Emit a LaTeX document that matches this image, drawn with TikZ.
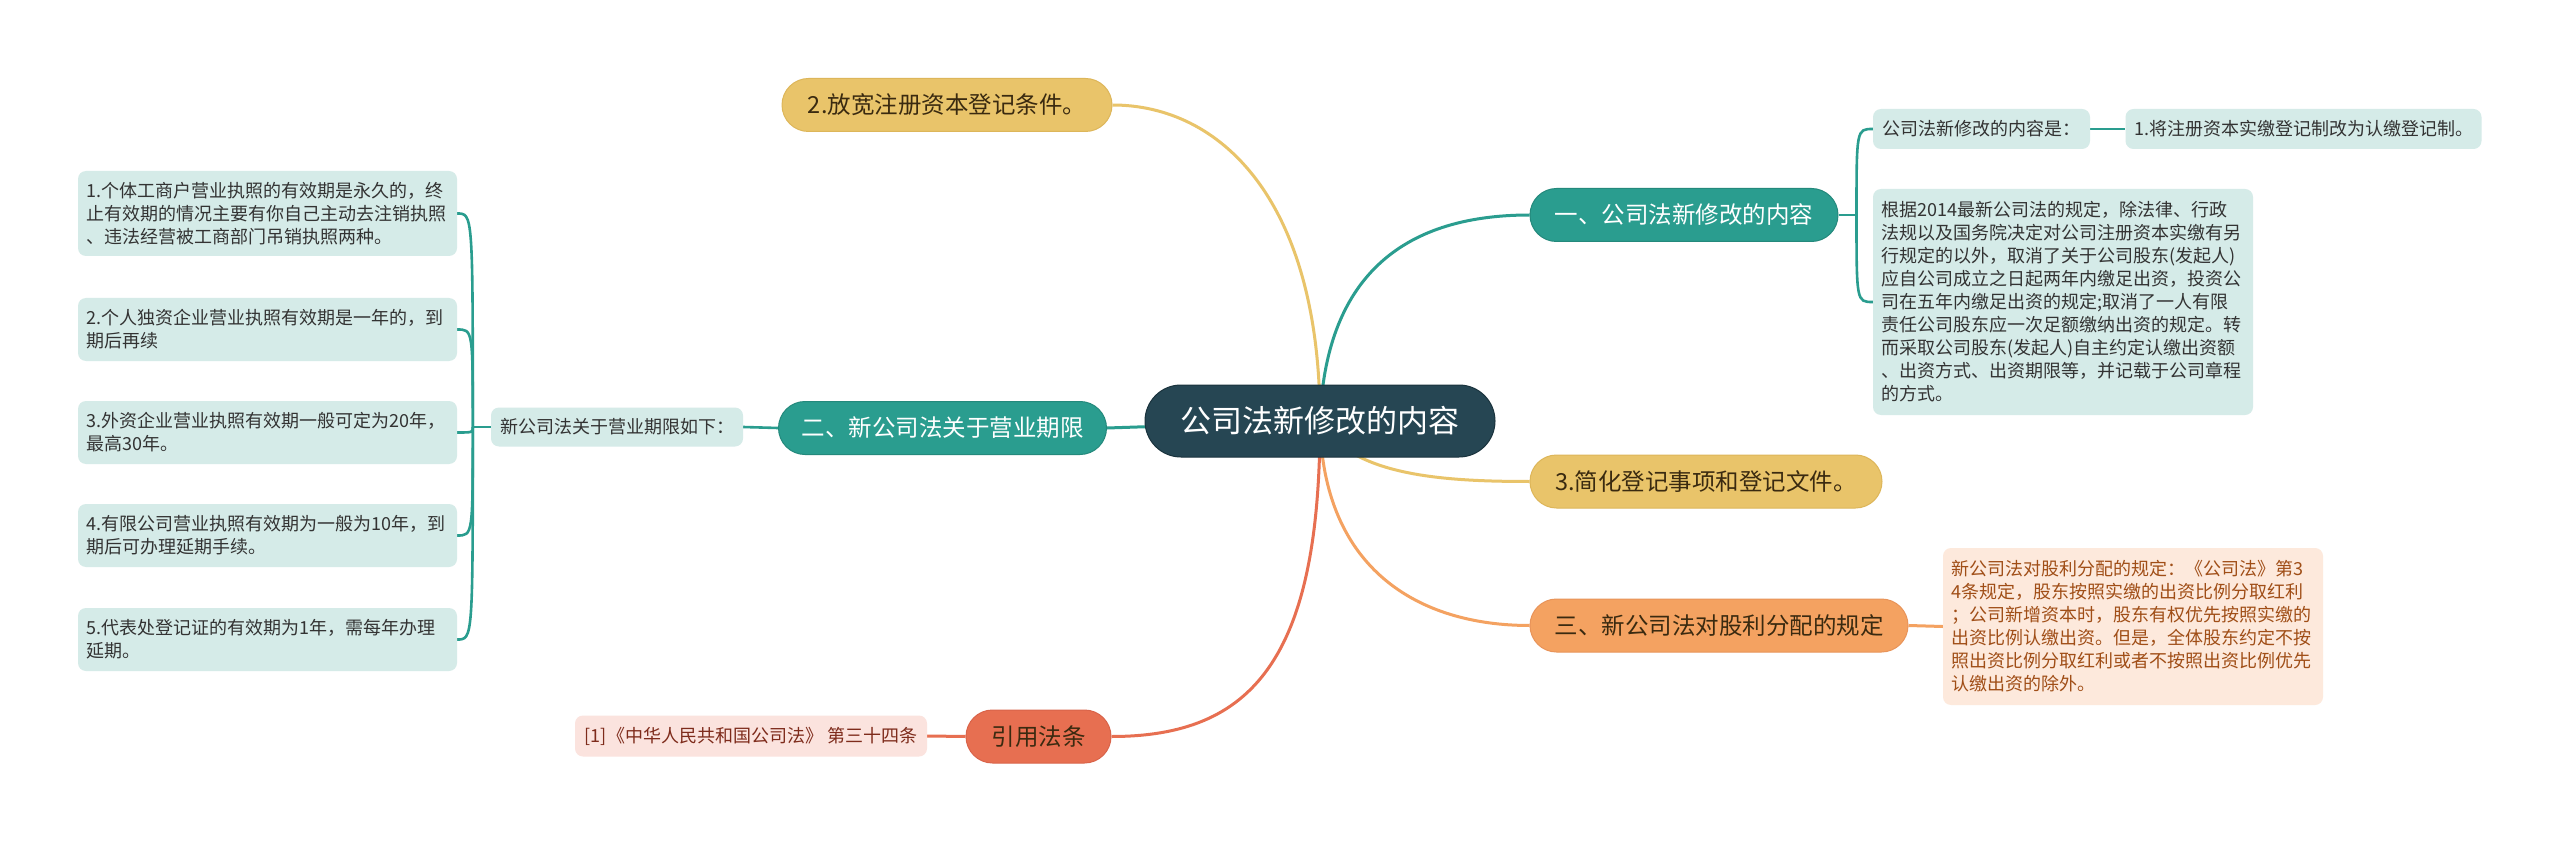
\documentclass[tikz,border=0pt]{standalone}
\usepackage{fontspec}
\setmainfont{Noto Sans CJK SC}
\usetikzlibrary{calc}
\definecolor{cnavy}{HTML}{264653}
\definecolor{cnavyd}{HTML}{1A333D}
\definecolor{cteal}{HTML}{2A9D8F}
\definecolor{ctealt}{HTML}{24897C}
\definecolor{cyel}{HTML}{E9C46A}
\definecolor{cyeld}{HTML}{DDB65A}
\definecolor{corg}{HTML}{F4A261}
\definecolor{corgd}{HTML}{E8945A}
\definecolor{cred}{HTML}{E76F51}
\definecolor{credd}{HTML}{D9644A}
\definecolor{lteal}{HTML}{D5EBE8}
\definecolor{lorg}{HTML}{FDE9DC}
\definecolor{lred}{HTML}{FBE3DE}
\definecolor{txtd}{HTML}{333333}
\definecolor{txto}{HTML}{A04E17}
\definecolor{txtr}{HTML}{7E2B1B}
\definecolor{txtk}{HTML}{3A2A10}
\pgfdeclarelayer{bg}
\pgfdeclarelayer{paper}
\pgfsetlayers{paper,bg,main}
\begin{document}
\begin{tikzpicture}[x=1pt,y=-1pt,
  rootbox/.style={fill=cnavy, draw=cnavyd, line width=1pt, rounded corners=36pt,
    text=white, font=\fontsize{31}{36}\selectfont, minimum width=350pt, minimum height=72pt, inner sep=0pt},
  pill/.style={rounded corners=26.5pt, line width=1pt, font=\fontsize{23.5}{28}\selectfont,
    minimum height=53pt, inner sep=0pt},
  pteal/.style={pill, fill=cteal, draw=ctealt, text=white},
  pyel/.style={pill, fill=cyel, draw=cyeld, text=txtk},
  porg/.style={pill, fill=corg, draw=corgd, text=txtk},
  pred/.style={pill, fill=cred, draw=credd, text=txtk},
  leafbox/.style={rounded corners=8pt, font=\fontsize{18}{23}\selectfont, inner xsep=8.5pt,
    inner ysep=0pt, align=left},
  lt/.style={leafbox, fill=lteal, text=txtd},
  lo/.style={leafbox, fill=lorg, text=txto},
  lr/.style={leafbox, fill=lred, text=txtr},
  conn/.style={line width=3pt},
  brk/.style={line width=2.6pt, draw=cteal}
]
\useasboundingbox (0,0) rectangle (2560,842);
\begin{pgfonlayer}{paper}
\fill[white] (0,0) rectangle (2560,842);
\end{pgfonlayer}

% root
\node[rootbox] (c) at (1320,421) {公司法新修改的内容};

% first level
\node[pyel, minimum width=330pt] (b2) at (947,105) {2.放宽注册资本登记条件。};
\node[pteal, minimum width=308pt] (b1) at (1684,215) {一、公司法新修改的内容};
\node[pyel, minimum width=352pt] (b3) at (1706,481.5) {3.简化登记事项和登记文件。};
\node[porg, minimum width=378pt] (b4) at (1719,625.5) {三、新公司法对股利分配的规定};
\node[pteal, minimum width=328pt] (b5) at (942.5,428) {二、新公司法关于营业期限};
\node[pred, minimum width=145pt] (b6) at (1038.5,736.5) {引用法条};

% right teal branch
\node[lt, minimum width=217pt, minimum height=40pt, align=center] (a1) at (1981.5,129) {公司法新修改的内容是：};
\node[lt, minimum width=356pt, minimum height=40pt, align=center] (a2) at (2303.5,129) {1.将注册资本实缴登记制改为认缴登记制。};
\node[lt, text width=363pt, minimum height=226pt] (a3) at (2063,302) {根据2014最新公司法的规定，除法律、行政\\
法规以及国务院决定对公司注册资本实缴有另\\
行规定的以外，取消了关于公司股东(发起人)\\
应自公司成立之日起两年内缴足出资，投资公\\
司在五年内缴足出资的规定;取消了一人有限\\
责任公司股东应一次足额缴纳出资的规定。转\\
而采取公司股东(发起人)自主约定认缴出资额\\
、出资方式、出资期限等，并记载于公司章程\\
的方式。};

% orange branch
\node[lo, text width=363pt, minimum height=157pt] (o1) at (2133,626.5) {新公司法对股利分配的规定：《公司法》第3\\
4条规定，股东按照实缴的出资比例分取红利\\
；公司新增资本时，股东有权优先按照实缴的\\
出资比例认缴出资。但是，全体股东约定不按\\
照出资比例分取红利或者不按照出资比例优先\\
认缴出资的除外。};

% red branch
\node[lr, minimum width=352pt, minimum height=41pt, align=center] (r1) at (751,736) {[1]《中华人民共和国公司法》 第三十四条};

% left teal branch
\node[lt, minimum width=252pt, minimum height=39pt, align=center] (lab) at (617,427) {新公司法关于营业期限如下：};
\node[lt, text width=362pt, minimum height=85pt] (l1) at (267.5,213.5) {1.个体工商户营业执照的有效期是永久的，终\\
止有效期的情况主要有你自己主动去注销执照\\
、违法经营被工商部门吊销执照两种。};
\node[lt, text width=362pt, minimum height=63pt] (l2) at (267.5,329.5) {2.个人独资企业营业执照有效期是一年的，到\\
期后再续};
\node[lt, text width=362pt, minimum height=63pt] (l3) at (267.5,432.5) {3.外资企业营业执照有效期一般可定为20年，\\
最高30年。};
\node[lt, text width=362pt, minimum height=63pt] (l4) at (267.5,535.5) {4.有限公司营业执照有效期为一般为10年，到\\
期后可办理延期手续。};
\node[lt, text width=362pt, minimum height=63pt] (l5) at (267.5,639.5) {5.代表处登记证的有效期为1年，需每年办理\\
延期。};

\coordinate (bxl) at ($(lab.west)+(-18,0)$);
\coordinate (bxr) at ($(b1.east)+(18,0)$);

\begin{pgfonlayer}{bg}
  \draw[conn, cyel] (c.center) .. controls ($(c.center)+(0,-221)$) and ($(b2.east)+(108,0)$) .. (b2.east);
  \draw[conn, cteal] (c.center) .. controls ($(c.center)+(5,-141)$) and ($(b1.west)+(-130,0)$) .. (b1.west);
  \draw[conn, cyel] (c.center) .. controls ($(c.center)+(30,54)$) and ($(b3.west)+(-90,0)$) .. (b3.west);
  \draw[conn, corg] (c.center) .. controls ($(c.center)+(2,149)$) and ($(b4.west)+(-110,0)$) .. (b4.west);
  \draw[conn, cred] (c.center) .. controls ($(c.center)+(0,239)$) and ($(b6.east)+(140,0)$) .. (b6.east);
  \draw[conn, cteal] (c.center) -- (b5.east);

  % right teal sub-branch
  \draw[brk] (b1.east) -- (bxr);
  \draw[brk] (bxr) .. controls (bxr |- a1.west) .. (a1.west);
  \draw[brk] (bxr) .. controls (bxr |- a3.west) .. (a3.west);
  \draw[brk] (a1.east) -- (a2.west);

  % orange and red
  \draw[conn, corg] (b4.east) -- (o1.west);
  \draw[conn, cred] (b6.west) -- (r1.east);

  % left teal sub-branch
  \draw[brk] (b5.west) -- (lab.east);
  \draw[brk] (lab.west) -- (bxl);
  \foreach \n in {l1,l2,l3,l4,l5}{
    \draw[brk] (bxl) .. controls (bxl |- \n.east) .. (\n.east);
  }
\end{pgfonlayer}
\end{tikzpicture}
\end{document}
